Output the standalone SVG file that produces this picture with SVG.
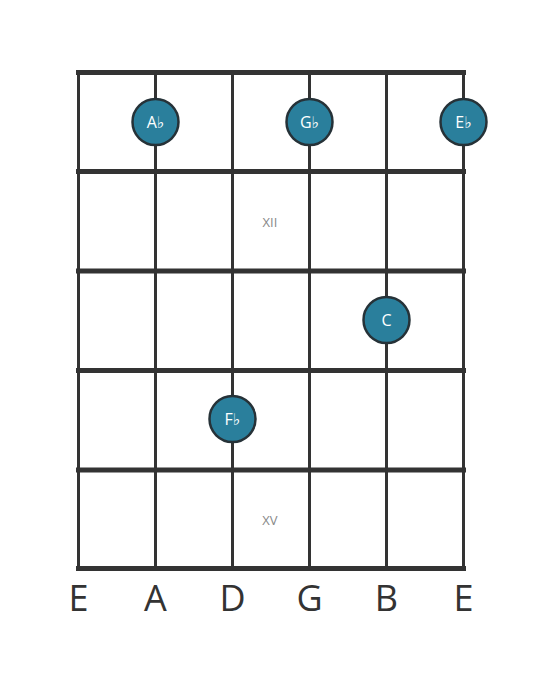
<svg xmlns="http://www.w3.org/2000/svg" width="559" height="682" viewBox="0 0 559 682">
<style>
.fret{stroke:#333;stroke-width:5;stroke-linecap:square}
.str{stroke:#333;stroke-width:3}
.note circle{fill:#2a7f9c;stroke:#263238;stroke-width:2.5}
.note text{fill:#fff;font-family:"Open Sans","DejaVu Sans",sans-serif;font-size:16px;text-anchor:middle}
.mark{fill:#888;font-family:"Open Sans","DejaVu Sans",sans-serif;font-size:13px;text-anchor:middle}
.sname{fill:#333;font-family:"Open Sans","DejaVu Sans",sans-serif;font-size:36px;text-anchor:middle}
</style>
<rect width="559" height="682" fill="#fff"/>
<g id="fretboard">
<line class="str" x1="78.5" y1="72" x2="78.5" y2="569"/>
<line class="str" x1="155.5" y1="72" x2="155.5" y2="569"/>
<line class="str" x1="232.5" y1="72" x2="232.5" y2="569"/>
<line class="str" x1="309.5" y1="72" x2="309.5" y2="569"/>
<line class="str" x1="386.5" y1="72" x2="386.5" y2="569"/>
<line class="str" x1="463.5" y1="72" x2="463.5" y2="569"/>
<line class="fret" x1="78.5" y1="72.5" x2="463.5" y2="72.5"/>
<line class="fret" x1="78.5" y1="171.5" x2="463.5" y2="171.5"/>
<line class="fret" x1="78.5" y1="271" x2="463.5" y2="271"/>
<line class="fret" x1="78.5" y1="370.5" x2="463.5" y2="370.5"/>
<line class="fret" x1="78.5" y1="470" x2="463.5" y2="470"/>
<line class="fret" x1="78.5" y1="568.5" x2="463.5" y2="568.5"/>
<text class="mark" x="270" y="227">XII</text>
<text class="mark" x="270" y="525">XV</text>
</g>
<g id="note-Ab" class="note"><circle cx="155.5" cy="122" r="23"/><text x="155.5" y="128">A♭</text></g>
<g id="note-Gb" class="note"><circle cx="309.5" cy="122" r="23"/><text x="309.5" y="128">G♭</text></g>
<g id="note-Eb" class="note"><circle cx="463.5" cy="122" r="23"/><text x="463.5" y="128">E♭</text></g>
<g id="note-C" class="note"><circle cx="386.5" cy="320" r="23"/><text x="386.5" y="326">C</text></g>
<g id="note-Fb" class="note"><circle cx="232.5" cy="419" r="23"/><text x="232.5" y="425">F♭</text></g>
<g id="string-names">
<text class="sname" x="78.5" y="611">E</text>
<text class="sname" x="155.5" y="611">A</text>
<text class="sname" x="232.5" y="611">D</text>
<text class="sname" x="309.5" y="611">G</text>
<text class="sname" x="386.5" y="611">B</text>
<text class="sname" x="463.5" y="611">E</text>
</g>
</svg>
